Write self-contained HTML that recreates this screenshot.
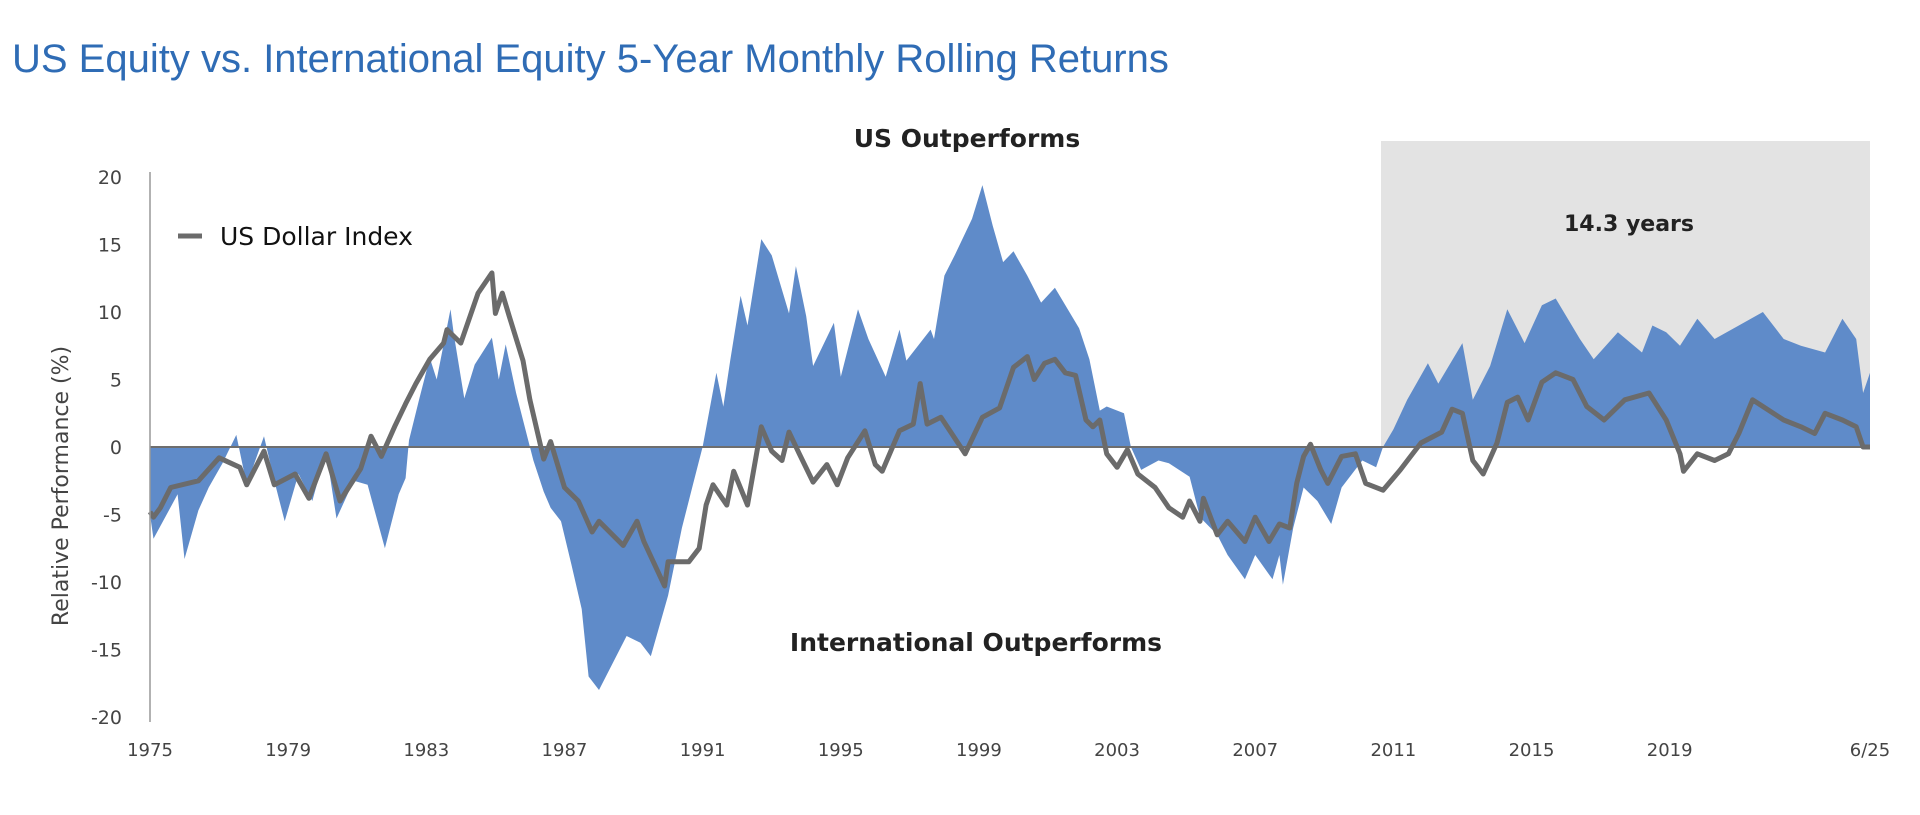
<!DOCTYPE html>
<html><head><meta charset="utf-8"><style>
html,body{margin:0;padding:0;background:#fff;}
svg{display:block;}
text{font-family:"DejaVu Sans","Liberation Sans",sans-serif;}
</style></head><body>
<svg id="chart" width="1920" height="815" viewBox="0 0 1920 815" xmlns="http://www.w3.org/2000/svg">
<text x="12" y="72" font-size="40" fill="#2f6cb5" style="font-family:'Liberation Sans',sans-serif">US Equity vs. International Equity 5-Year Monthly Rolling Returns</text>
<rect x="1381" y="141" width="489" height="306" fill="#e3e3e3"/>
<g id="area"></g>
<g id="zero"></g>
<g id="line"></g>
<line x1="150" y1="172" x2="150" y2="722" stroke="#999" stroke-width="1.5"/>
<g id="yticks"></g>
<g id="xticks"></g>
<text transform="translate(68,486) rotate(-90)" text-anchor="middle" font-size="22" fill="#444">Relative Performance (%)</text>
<text x="967" y="147" text-anchor="middle" font-size="25" font-weight="bold" fill="#222">US Outperforms</text>
<text x="976" y="651" text-anchor="middle" font-size="25" font-weight="bold" fill="#222">International Outperforms</text>
<text x="1629" y="231" text-anchor="middle" font-size="22" font-weight="bold" fill="#222">14.3 years</text>
<g>
<line x1="178" y1="236" x2="202" y2="236" stroke="#6b6b6b" stroke-width="5"/>
<text x="220" y="245" font-size="25" fill="#111">US Dollar Index</text>
</g>
</svg>
<script>
const equityYears=[1975.0,1975.1,1975.8,1976.0,1976.4,1976.7,1977.1,1977.5,1977.8,1978.3,1978.6,1978.9,1979.3,1979.7,1980.1,1980.4,1980.9,1981.3,1981.8,1982.2,1982.4,1982.5,1982.8,1983.1,1983.3,1983.7,1983.8,1984.1,1984.4,1984.9,1985.1,1985.3,1985.6,1985.8,1986.1,1986.4,1986.6,1986.9,1987.2,1987.5,1987.7,1988.0,1988.4,1988.8,1989.2,1989.5,1990.0,1990.4,1990.7,1991.0,1991.4,1991.6,1991.8,1992.1,1992.3,1992.7,1993.0,1993.5,1993.7,1994.0,1994.2,1994.8,1995.0,1995.5,1995.8,1996.3,1996.7,1996.9,1997.6,1997.7,1998.0,1998.3,1998.8,1999.1,1999.4,1999.7,2000.0,2000.4,2000.8,2001.2,2001.9,2002.2,2002.5,2002.7,2003.2,2003.4,2003.7,2004.2,2004.5,2005.1,2005.4,2005.9,2006.2,2006.7,2007.0,2007.5,2007.7,2007.8,2008.1,2008.4,2008.8,2009.2,2009.5,2010.1,2010.5,2010.7,2011.0,2011.4,2012.0,2012.3,2013.0,2013.3,2013.8,2014.3,2014.8,2015.3,2015.7,2016.4,2016.8,2017.5,2018.2,2018.5,2018.9,2019.3,2019.8,2020.3,2021.0,2021.7,2022.3,2022.8,2023.5,2024.0,2024.4,2024.6,2024.8];
const equityValues=[-5,-6.8,-3.5,-8.3,-4.7,-3,-1.2,0.9,-2.8,0.8,-2.5,-5.5,-2,-4,-0.3,-5.3,-2.5,-2.8,-7.5,-3.5,-2.3,0.5,3.6,6.6,5,10.2,8.3,3.6,6.1,8.1,5,7.6,4,2,-1,-3.3,-4.5,-5.5,-8.7,-12,-17,-18,-16,-14,-14.5,-15.5,-11,-6,-3,0,5.5,3,6.4,11.2,9,15.4,14.2,9.9,13.4,9.7,6,9.2,5.2,10.2,8,5.2,8.7,6.4,8.7,8,12.7,14.2,16.9,19.4,16.4,13.7,14.5,12.7,10.7,11.8,8.8,6.5,2.7,3,2.5,0,-1.7,-1,-1.2,-2.2,-5.2,-6.5,-8,-9.8,-8,-9.8,-8,-10.2,-6,-3,-4,-5.7,-3,-1,-1.5,0,1.3,3.5,6.2,4.7,7.7,3.5,6,10.2,7.7,10.5,11,8,6.5,8.5,7,9,8.5,7.5,9.5,8,9,10,8,7.5,7,9.5,8,4,5.5];
const dollarYears=[1975.0,1975.1,1975.3,1975.6,1976.4,1977.0,1977.6,1977.8,1978.3,1978.6,1979.2,1979.6,1980.1,1980.5,1981.1,1981.4,1981.7,1982.1,1982.4,1982.7,1983.1,1983.5,1983.6,1984.0,1984.5,1984.9,1985.0,1985.2,1985.4,1985.8,1986.0,1986.4,1986.6,1987.0,1987.4,1987.8,1988.0,1988.7,1989.1,1989.3,1989.9,1990.0,1990.6,1990.9,1991.1,1991.3,1991.7,1991.9,1992.3,1992.7,1993.0,1993.3,1993.5,1993.8,1994.2,1994.6,1994.9,1995.2,1995.7,1996.0,1996.2,1996.7,1997.1,1997.3,1997.5,1997.9,1998.6,1999.1,1999.6,2000.0,2000.4,2000.6,2000.9,2001.2,2001.5,2001.8,2002.1,2002.3,2002.5,2002.7,2003.0,2003.3,2003.6,2004.1,2004.5,2004.9,2005.1,2005.4,2005.5,2005.9,2006.2,2006.7,2007.0,2007.4,2007.7,2008.0,2008.2,2008.4,2008.6,2008.9,2009.1,2009.5,2009.9,2010.2,2010.7,2011.2,2011.5,2011.8,2012.4,2012.7,2013.0,2013.3,2013.6,2014.0,2014.3,2014.6,2014.9,2015.3,2015.7,2016.2,2016.6,2017.1,2017.7,2018.4,2018.9,2019.3,2019.4,2019.8,2020.3,2020.7,2021.0,2021.4,2021.7,2022.3,2022.8,2023.2,2023.5,2024.0,2024.4,2024.6,2024.8];
const dollarValues=[-4.8,-5.2,-4.5,-3,-2.5,-0.8,-1.5,-2.8,-0.3,-2.8,-2,-3.8,-0.5,-4,-1.6,0.8,-0.7,1.6,3.2,4.7,6.5,7.7,8.7,7.7,11.4,12.9,9.9,11.4,9.7,6.4,3.5,-0.9,0.4,-3,-4,-6.3,-5.5,-7.3,-5.5,-7,-10.3,-8.5,-8.5,-7.5,-4.3,-2.8,-4.3,-1.8,-4.3,1.5,-0.3,-1,1.1,-0.5,-2.6,-1.3,-2.8,-0.8,1.2,-1.3,-1.8,1.2,1.7,4.7,1.7,2.2,-0.5,2.2,2.9,5.9,6.7,5,6.2,6.5,5.5,5.3,2,1.5,2,-0.5,-1.5,-0.2,-2,-3,-4.5,-5.2,-4,-5.5,-3.8,-6.5,-5.5,-7,-5.2,-7,-5.7,-6,-2.7,-0.7,0.2,-1.7,-2.7,-0.7,-0.5,-2.7,-3.2,-1.7,-0.7,0.3,1.1,2.8,2.5,-1,-2,0.3,3.3,3.7,2,4.8,5.5,5,3,2,3.5,4,2,-0.5,-1.8,-0.5,-1,-0.5,1,3.5,3,2,1.5,1,2.5,2,1.5,0,0];
const yTickValues=[20,15,10,5,0,-5,-10,-15,-20];
const xTickYears=[1975,1979,1983,1987,1991,1995,1999,2003,2007,2011,2015,2019];
const endLabel="6/25";
const NS="http://www.w3.org/2000/svg";
const X0=150,X1=1870,T0=1975,T1=2024.8,Y0=447,PX=13.5;
function xs(t){return X0+(t-T0)*(X1-X0)/(T1-T0);}
function ys(v){return Y0-v*PX;}
function mk(tag,attrs,parent){const e=document.createElementNS(NS,tag);for(const k in attrs)e.setAttribute(k,attrs[k]);parent.appendChild(e);return e;}
let d="M"+xs(equityYears[0])+","+ys(0);
equityYears.forEach((t,i)=>{d+=" L"+xs(t).toFixed(1)+","+ys(equityValues[i]).toFixed(1);});
d+=" L"+xs(equityYears[equityYears.length-1])+","+ys(0)+" Z";
const ap=mk("path",{d:d,fill:"#5f8bc9"},document.getElementById("area"));


const zl=mk("line",{x1:X0,y1:ys(0),x2:X1,y2:ys(0),stroke:"#6e6e6e","stroke-width":2},document.getElementById("zero"));


let ld="";
dollarYears.forEach((t,i)=>{ld+=(i?" L":"M")+xs(t).toFixed(1)+","+ys(dollarValues[i]).toFixed(1);});
const lp=mk("path",{d:ld,fill:"none",stroke:"#6b6b6b","stroke-width":5,"stroke-linejoin":"round"},document.getElementById("line"));


const yg=document.getElementById("yticks");
yTickValues.forEach(v=>{const t=mk("text",{x:122,y:ys(v)+7,"text-anchor":"end","font-size":19,fill:"#444"},yg);t.textContent=String(v);

});
const xg=document.getElementById("xticks");
xTickYears.forEach(y=>{const t=mk("text",{x:xs(y),y:756,"text-anchor":"middle","font-size":18,fill:"#444"},xg);t.textContent=String(y);

});
const te=mk("text",{x:X1,y:756,"text-anchor":"middle","font-size":18,fill:"#444"},xg);te.textContent=endLabel;


</script>
</body></html>
